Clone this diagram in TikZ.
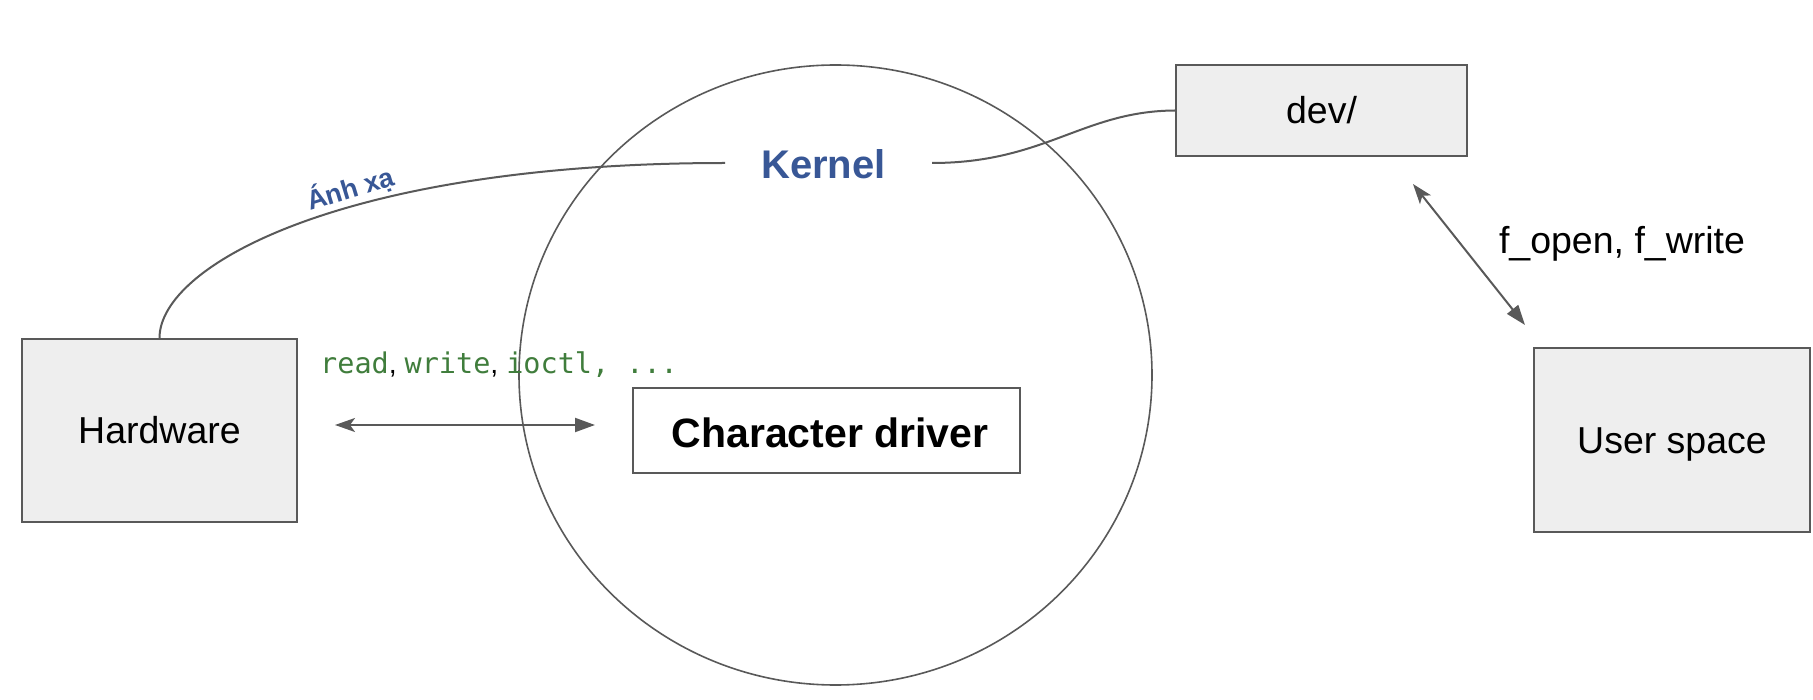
\documentclass[tikz,border=0pt]{standalone}
\usepackage{fontspec}
\setmainfont{Liberation Sans}
\newfontfamily\monofont{DejaVu Sans Mono}
\usetikzlibrary{shapes.geometric,arrows.meta}
\definecolor{linegray}{RGB}{89,89,89}
\definecolor{boxfill}{RGB}{238,238,238}
\definecolor{kblue}{RGB}{56,87,150}
\definecolor{cgreen}{RGB}{64,125,60}
\begin{document}
\begin{tikzpicture}[x=1pt,y=-1pt,
  graybox/.style={draw=linegray,line width=2pt,fill=boxfill,inner sep=0pt,
    text height=26.85pt,text depth=0pt,font=\fontsize{37.5}{45}\selectfont},
  whitebox/.style={draw=linegray,line width=2pt,fill=white,inner sep=0pt,
    text height=29.4pt,text depth=0pt,font=\bfseries\fontsize{41}{48}\selectfont},
  conn/.style={draw=linegray,line width=2pt},
  dbl/.style={conn,{Stealth[length=20pt,width=14pt,inset=5pt]}-{Triangle[length=20pt,width=14pt]}},
  plainlabel/.style={inner sep=0pt,text height=26.85pt,text depth=0pt,font=\fontsize{37.5}{45}\selectfont}
]
\useasboundingbox (0,0) rectangle (1813,700);
% kernel ring
\node[ellipse,draw=linegray,line width=1.6pt,minimum width=633pt,minimum height=620pt,inner sep=0pt] (ring) at (835.5,375) {};
% boxes
\node[graybox,minimum width=275pt,minimum height=183pt] (hw) at (159.5,430.5) {Hardware};
\node[whitebox,minimum width=387pt,minimum height=85pt] (cd) at (826.5,430.5) {\raisebox{-2.5pt}{\hspace*{7pt}Character driver}};
\node[graybox,minimum width=291pt,minimum height=91pt] (dev) at (1321.5,110.5) {dev/};
\node[graybox,minimum width=276pt,minimum height=184pt] (us) at (1672,440) {User space};
% kernel label
\node[inner sep=0pt,text height=28.6pt,text depth=0pt,text=kblue,font=\bfseries\fontsize{40}{48}\selectfont] (kernel) at (823.5,164) {Kernel};
\coordinate (kl) at (725,163);
\coordinate (kr) at (932,163);
% curves
\draw[conn] (hw.north) .. controls (159.5,265) and (345,163) .. (kl);
\draw[conn] (kr) .. controls (1045,163) and (1083,111) .. (dev.west);
% mapping label
\node[rotate=17,anchor=base west,inner sep=0pt,text=kblue,font=\bfseries\fontsize{27}{32}\selectfont] (map) at (310,211) {Ánh xạ};
% arrows
\coordinate (ha) at (335,425);
\coordinate (ca) at (595,425);
\draw[dbl] (ha) -- (ca);
\coordinate (da) at (1413,184);
\coordinate (ua) at (1525,325);
\draw[dbl] (da) -- (ua);
% call labels
\node[anchor=base west,inner sep=0pt,font=\fontsize{28.5}{34}\selectfont] (calls) at (320,374)
  {\textcolor{cgreen}{\monofont read}, \textcolor{cgreen}{\monofont write}, \textcolor{cgreen}{\monofont ioctl, ...}};
\node[plainlabel] (fops) at (1622,240) {f\_open, f\_write};
\end{tikzpicture}
\end{document}
